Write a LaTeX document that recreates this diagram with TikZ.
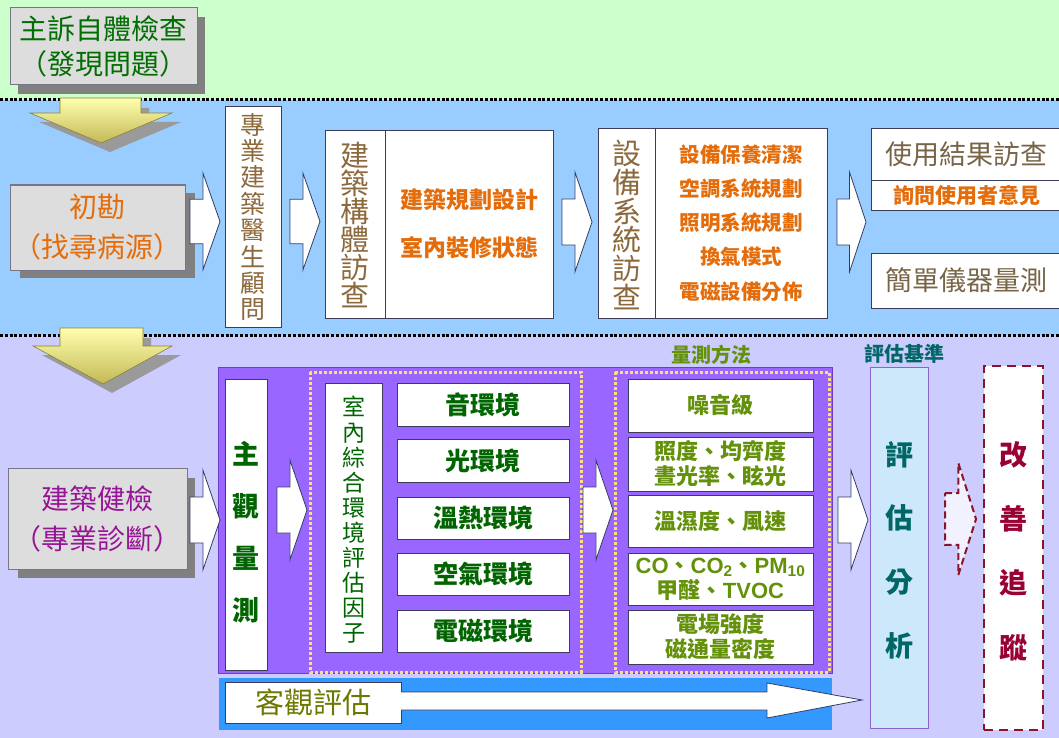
\documentclass[tikz,border=0pt]{standalone}
\usepackage{fontspec}
\setmainfont{Noto Sans CJK TC}
\newfontfamily\latinsf{Liberation Sans}
\usetikzlibrary{calc}
\definecolor{bgGreen}{RGB}{204,255,204}
\definecolor{bgBlue}{RGB}{153,204,255}
\definecolor{bgLav}{RGB}{204,204,255}
\definecolor{boxGray}{RGB}{221,221,221}
\definecolor{shadowGray}{RGB}{128,128,128}
\definecolor{txtGreen}{RGB}{0,110,0}
\definecolor{txtOrange}{RGB}{228,108,10}
\definecolor{txtBrown}{RGB}{140,105,60}
\definecolor{txtGrayBrown}{RGB}{120,100,70}
\definecolor{txtPurple}{RGB}{150,20,150}
\definecolor{txtDkGreen}{RGB}{0,100,0}
\definecolor{txtOlive}{RGB}{100,145,10}
\definecolor{txtOliveDk}{RGB}{110,120,0}
\definecolor{txtTeal}{RGB}{0,102,102}
\definecolor{txtRed}{RGB}{153,0,51}
\definecolor{purpleBox}{RGB}{153,102,255}
\definecolor{purpleEdge}{RGB}{110,60,200}
\definecolor{barBlue}{RGB}{51,153,255}
\definecolor{paleBlue}{RGB}{204,232,250}
\definecolor{edge}{RGB}{60,60,90}
\definecolor{arrEdge}{RGB}{50,60,100}
\definecolor{dotYellow}{RGB}{255,222,130}
\definecolor{yelTop}{RGB}{255,255,175}
\definecolor{yelBot}{RGB}{195,185,85}
\definecolor{dashRed}{RGB}{140,20,40}

\newcommand{\blockarrow}[5][blockarr]{%
  \pgfmathsetmacro{\bkA}{#4-0.46*#5}%
  \pgfmathsetmacro{\bkB}{#4+0.46*#5}%
  \pgfmathsetmacro{\bkC}{#4-#5}%
  \pgfmathsetmacro{\bkD}{#4+#5}%
  \pgfmathsetmacro{\bkH}{#2+0.43*(#3-#2)}%
  \draw[#1] (#2,\bkA) -- (\bkH,\bkA) -- (\bkH,\bkC) -- (#3,#4) -- (\bkH,\bkD) -- (\bkH,\bkB) -- (#2,\bkB) -- cycle;}

\begin{document}
\begin{tikzpicture}[x=1pt,y=-1pt,
  every node/.style={inner sep=0pt,outer sep=0pt},
  blockarr/.style={fill=white,draw=arrEdge,line width=0.8pt,line join=miter},
  dasharr/.style={fill=white!75!bgLav,draw=dashRed,line width=2pt,dash pattern=on 7pt off 4pt},
  wbox/.style={draw=edge,fill=white,line width=0.9pt},
  graybox/.style={draw=edge!70,fill=boxGray,line width=1pt},
  sepline/.style={draw=black,line width=3pt,dash pattern=on 3pt off 1.8pt},
  dotframe/.style={draw=dotYellow,line width=3pt,dash pattern=on 2.6pt off 2.4pt},
  yarrow/.style={top color=yelTop,bottom color=yelBot,draw=yelBot!70!black,line width=0.6pt},
  vtext/.style={align=center}
]
\useasboundingbox (0,0) rectangle (1059,738);

% ---------------- background bands
\fill[bgGreen] (0,0) rectangle (1059,100);
\fill[bgBlue] (0,100) rectangle (1059,335);
\fill[bgLav] (0,335) rectangle (1059,738);
\draw[sepline] (0,100) -- (1059,100);
\draw[sepline] (0,335) -- (1059,335);

% ---------------- top gray box
\fill[shadowGray] (18,17) rectangle (205,94);
\node[graybox,minimum width=187,minimum height=77,align=center,text=txtGreen,
  font=\fontsize{28}{35}\selectfont] (selfcheck) at (103.5,46.5) {主訴自體檢查\\（發現問題）};

% ---------------- yellow down arrows
\fill[shadowGray!80] (68,108) -- (149,108) -- (149,122) -- (181,122) -- (110,152) -- (39,122) -- (68,122) -- cycle;
\draw[yarrow] (60,98) -- (141,98) -- (141,113) -- (172,113) -- (101,143) -- (30,113) -- (60,113) -- cycle;
\fill[shadowGray!80] (68,338) -- (151,338) -- (151,355) -- (181,355) -- (112,393) -- (42,355) -- (68,355) -- cycle;
\draw[yarrow] (60,328) -- (143,328) -- (143,346) -- (172,346) -- (103,384) -- (33,346) -- (60,346) -- cycle;

% ---------------- 初勘 row
\fill[shadowGray] (20,193) rectangle (195,278);
\node[graybox,minimum width=175,minimum height=85,align=center,text=txtOrange,
  font=\fontsize{28}{40}\selectfont] (survey) at (97.5,227.5) {初勘\\（找尋病源）};

\blockarrow{190}{220}{221.5}{48.5}
\node[wbox,minimum width=56,minimum height=221] (doctorbox) at (253,216.5) {};
\node[vtext,text=txtBrown,font=\fontsize{25}{26.4}\selectfont] (doctor) at (253,217) {專\\業\\建\\築\\醫\\生\\顧\\問};

\blockarrow{290}{320}{221.5}{48.5}
\node[wbox,minimum width=60,minimum height=188] (structbox) at (355,224) {};
\node[vtext,text=txtBrown,font=\fontsize{29}{28}\selectfont] (struct) at (355,225) {建\\築\\構\\體\\訪\\查};
\node[wbox,minimum width=168,minimum height=188,align=center,text=txtOrange,
  font=\fontsize{23}{48}\selectfont\bfseries] (structitems) at (469,224) {建築規劃設計\\室內裝修狀態};

\blockarrow{562}{592}{222}{50}
\node[wbox,minimum width=57,minimum height=190] (equipbox) at (626.5,223) {};
\node[vtext,text=txtBrown,font=\fontsize{29}{28.8}\selectfont] (equip) at (626.5,225) {設\\備\\系\\統\\訪\\查};
\node[wbox,minimum width=172,minimum height=190,align=center,text=txtOrange,
  font=\fontsize{20.5}{34.2}\selectfont\bfseries] (equipitems) at (741,223) {設備保養清潔\\空調系統規劃\\照明系統規劃\\換氣模式\\電磁設備分佈};

\blockarrow{837}{866}{222}{50}
\node[wbox,minimum width=191,minimum height=52,text=txtGrayBrown,
  font=\fontsize{27}{30}\selectfont] (useresult) at (966.5,154) {使用結果訪查};
\node[wbox,minimum width=191,minimum height=30,text=txtOrange,
  font=\fontsize{21}{24}\selectfont\bfseries] (askuser) at (966.5,195) {詢問使用者意見};
\node[wbox,minimum width=191,minimum height=55,text=txtGrayBrown,
  font=\fontsize{27}{30}\selectfont] (instrument) at (966.5,280.5) {簡單儀器量測};

% ---------------- 建築健檢 row
\fill[shadowGray] (18,478) rectangle (195,578);
\node[graybox,minimum width=179,minimum height=101,align=center,text=txtPurple,
  font=\fontsize{28}{40}\selectfont] (diagnose) at (97.5,518.5) {建築健檢\\（專業診斷）};

\fill[purpleBox] (218,367) rectangle (832,673);
\draw[purpleEdge,line width=0.8pt] (218,367) rectangle (832,673);

\blockarrow{190}{220}{520}{50}

\node[wbox,minimum width=42,minimum height=291] (subjbox) at (246,524.5) {};
\node[vtext,text=txtDkGreen,font=\fontsize{27}{52}\selectfont\bfseries] (subj) at (246,532) {主\\觀\\量\\測};

\blockarrow{277}{307}{510}{50}

\draw[dotframe] (310,372) rectangle (581,672);
\node[wbox,minimum width=57,minimum height=269] (factorbox) at (353.5,517.5) {};
\node[vtext,text=txtDkGreen,font=\fontsize{23}{25.1}\selectfont] (factor) at (353.5,520) {室\\內\\綜\\合\\環\\境\\評\\估\\因\\子};

\tikzset{envbox/.style={wbox,minimum width=172,text=txtDkGreen,font=\fontsize{25}{28}\selectfont\bfseries}}
\node[envbox,minimum height=43] (sound) at (483,404.5) {音環境};
\node[envbox,minimum height=43] (light) at (483,460.5) {光環境};
\node[envbox,minimum height=42] (thermal) at (483,518) {溫熱環境};
\node[envbox,minimum height=42] (air) at (483,574) {空氣環境};
\node[envbox,minimum height=42] (emf) at (483,631) {電磁環境};

\blockarrow{583}{613}{510}{50}

\draw[dotframe] (615,372) rectangle (829,672);
\tikzset{mbox/.style={wbox,minimum width=185,align=center,text=txtOlive,font=\fontsize{22}{25}\selectfont\bfseries}}
\node[mbox,minimum height=53] (noise) at (720.5,405.5) {噪音級};
\node[mbox,minimum height=54] (lux) at (720.5,464) {照度、均齊度\\晝光率、眩光};
\node[mbox,minimum height=52] (humid) at (720.5,521) {溫濕度、風速};
\node[mbox,minimum height=52] (gas) at (720.5,579) {{\latinsf CO}、{\latinsf CO\textsubscript{2}}、{\latinsf PM\textsubscript{10}}\\甲醛、{\latinsf TVOC}};
\node[mbox,minimum height=54] (field) at (720.5,637) {電場強度\\磁通量密度};

\node[text=txtOlive,font=\fontsize{20}{22}\selectfont\bfseries] (methodlabel) at (711,355) {量測方法};
\node[text=txtTeal,font=\fontsize{20}{22}\selectfont\bfseries] (criterialabel) at (904,354) {評估基準};

% ---------------- objective assessment bar
\fill[barBlue] (219,678) rectangle (832,730);
\node[wbox,minimum width=176,minimum height=41,text=txtOliveDk,
  font=\fontsize{29}{32}\selectfont] (objective) at (313,702.5) {客觀評估};
\draw[blockarr] (objective.east |- 0,692) -- (767,692) -- (767,683) -- (862,700) -- (767,718) -- (767,710) -- (objective.east |- 0,710);

% ---------------- evaluation
\blockarrow{838}{868}{520}{50}
\node[draw=purpleEdge!80,fill=paleBlue,line width=0.9pt,minimum width=58,minimum height=361] (evalbox) at (899,547.5) {};
\node[vtext,text=txtTeal,font=\fontsize{28}{63.7}\selectfont\bfseries] (eval) at (899,550) {評\\估\\分\\析};

\blockarrow[dasharr]{945}{976}{519}{56}

\node[draw=dashRed,fill=white,line width=2.4pt,dash pattern=on 9pt off 6pt,minimum width=59,minimum height=364] (improvebox) at (1013.5,548) {};
\node[vtext,text=txtRed,font=\fontsize{28}{64.3}\selectfont\bfseries] (improve) at (1013.5,551) {改\\善\\追\\蹤};
\end{tikzpicture}
\end{document}
